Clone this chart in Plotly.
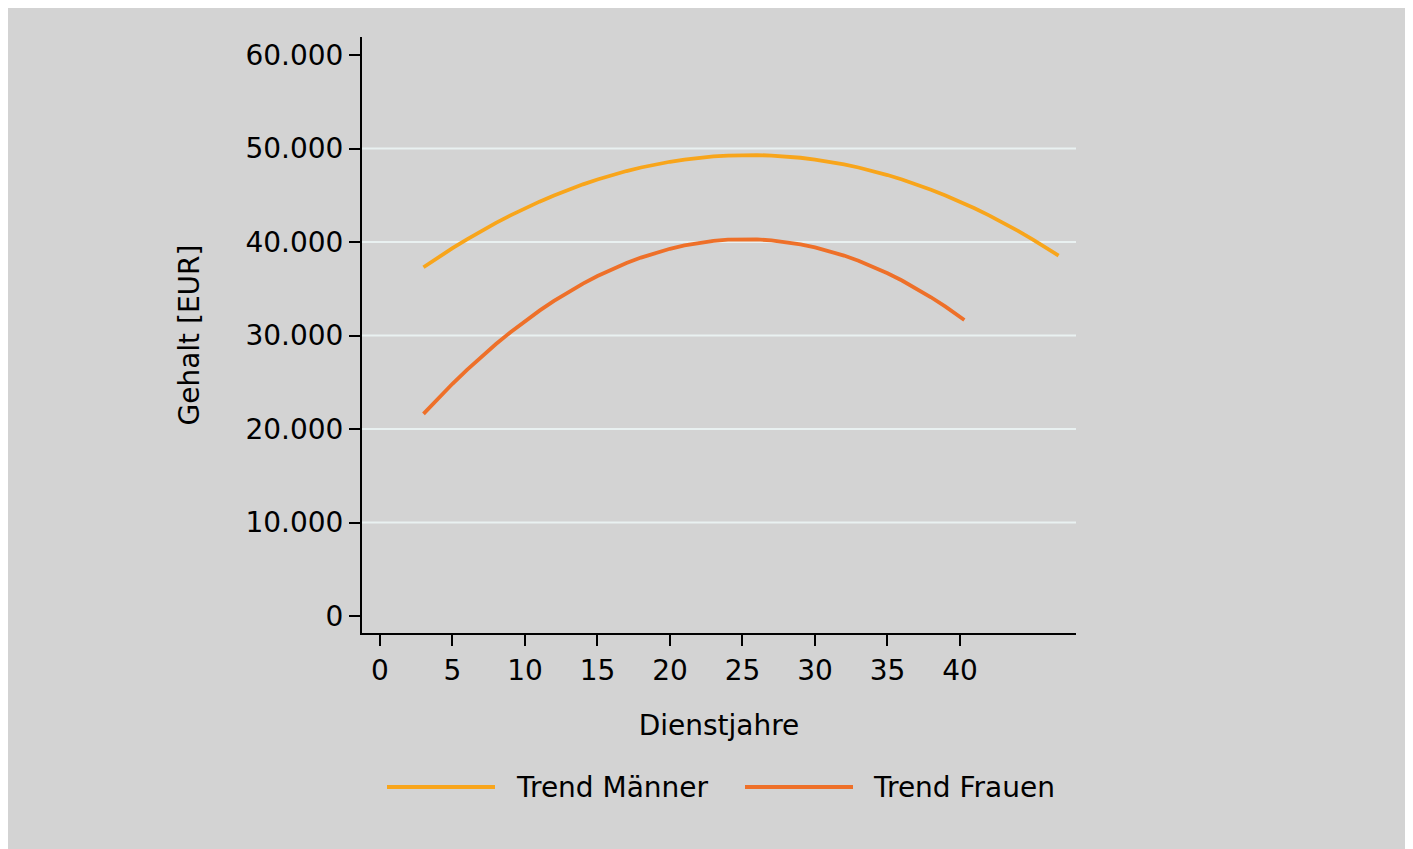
import plotly.graph_objects as go

# Data
years_men = [3, 4, 5, 6, 7, 8, 9, 10, 11, 12, 13, 14, 15, 16, 17, 18, 19, 20, 21, 22, 23, 24, 25,
             26, 27, 28, 29, 30, 31, 32, 33, 34, 35, 36, 37, 38, 39, 40, 41, 42, 43, 44, 45, 46, 46.8]
salary_men = [37300, 38345, 39340, 40288, 41189, 42042, 42848, 43606, 44317, 44981, 45597, 46166,
              46687, 47161, 47588, 47967, 48299, 48583, 48820, 49010, 49152, 49247, 49294,
              49294, 49247, 49152, 49010, 48820, 48583, 48299, 47967, 47588, 47161, 46687, 46166,
              45597, 44981, 44317, 43606, 42848, 42042, 41189, 40288, 39340, 38548]
years_women = [3, 4, 5, 6, 7, 8, 9, 10, 11, 12, 13, 14, 15, 16, 17, 18, 19, 20, 21, 22, 23, 24,
               25, 26, 27, 28, 29, 30, 31, 32, 33, 34, 35, 36, 37, 38, 39, 40, 40.3]
salary_women = [21620, 23266, 24835, 26329, 27746, 29088, 30354, 31544, 32658, 33696, 34659, 35546,
                36357, 37092, 37752, 38335, 38843, 39275, 39631, 39912, 40117, 40245, 40298, 40276,
                40177, 40003, 39753, 39427, 39025, 38548, 37994, 37365, 36660, 35879, 35023, 34090,
                33082, 31998, 31658]
series_names = ["Trend Männer", "Trend Frauen"]
x_ticks = [0, 5, 10, 15, 20, 25, 30, 35, 40]
y_ticks = [0, 10000, 20000, 30000, 40000, 50000, 60000]
y_tick_labels = ["0", "10.000", "20.000", "30.000", "40.000", "50.000", "60.000"]
grid_values = [10000, 20000, 30000, 40000, 50000]

colors = ["#f8a51b", "#ee7029"]
FONT = "DejaVu Sans"
FS = 28
LW = 3.8
W, H = 1413, 849
L, R, T, B = 354, 1068, 29, 625

def px_x(p):
    return (p - L) / (R - L)

def px_y(p):
    return (B - p) / (B - T)

fig = go.Figure()
fig.add_trace(go.Scatter(x=years_men, y=salary_men, mode="lines", name=series_names[0],
                         line=dict(color=colors[0], width=LW)))
fig.add_trace(go.Scatter(x=years_women, y=salary_women, mode="lines", name=series_names[1],
                         line=dict(color=colors[1], width=LW)))

shapes = []
for g in grid_values:
    shapes.append(dict(type="line", xref="paper", yref="y", x0=0, x1=1, y0=g, y1=g,
                       line=dict(color="#e9f1f1", width=2), layer="below"))

annotations = []
legend_items = [(379, 487, 506), (737, 845, 863)]
for i, (a, b, tx) in enumerate(legend_items):
    shapes.append(dict(type="line", xref="paper", yref="paper", x0=px_x(a), x1=px_x(b),
                       y0=px_y(779), y1=px_y(779), line=dict(color=colors[i], width=LW)))
    annotations.append(dict(xref="paper", yref="paper", x=px_x(tx), y=px_y(779), text=series_names[i],
                            showarrow=False, xanchor="left", yanchor="middle",
                            font=dict(family=FONT, size=FS, color="#000")))

fig.update_layout(
    width=W, height=H,
    margin=dict(l=L, r=W - R, t=T, b=H - B, pad=0),
    paper_bgcolor="#d3d3d3", plot_bgcolor="rgba(0,0,0,0)",
    showlegend=False,
    shapes=shapes, annotations=annotations,
    font=dict(family=FONT, size=FS, color="#000"),
    xaxis=dict(range=[-1.24, 48.0], tickvals=x_ticks, showgrid=False, zeroline=False,
               showline=True, linecolor="#000", linewidth=2, ticks="outside", ticklen=11,
               tickwidth=2, tickcolor="#000", tickfont=dict(size=FS),
               title=dict(text="Dienstjahre", font=dict(size=FS), standoff=30)),
    yaxis=dict(range=[-1818, 61925], tickvals=y_ticks, ticktext=y_tick_labels, showgrid=False,
               zeroline=False, showline=True, linecolor="#000", linewidth=2, ticks="outside",
               ticklen=11, tickwidth=2, tickcolor="#000", tickfont=dict(size=FS),
               title=dict(text="Gehalt [EUR]", font=dict(size=FS), standoff=38)),
)

fig.write_html("out.html", post_script="document.body.style.overflow='hidden';")
